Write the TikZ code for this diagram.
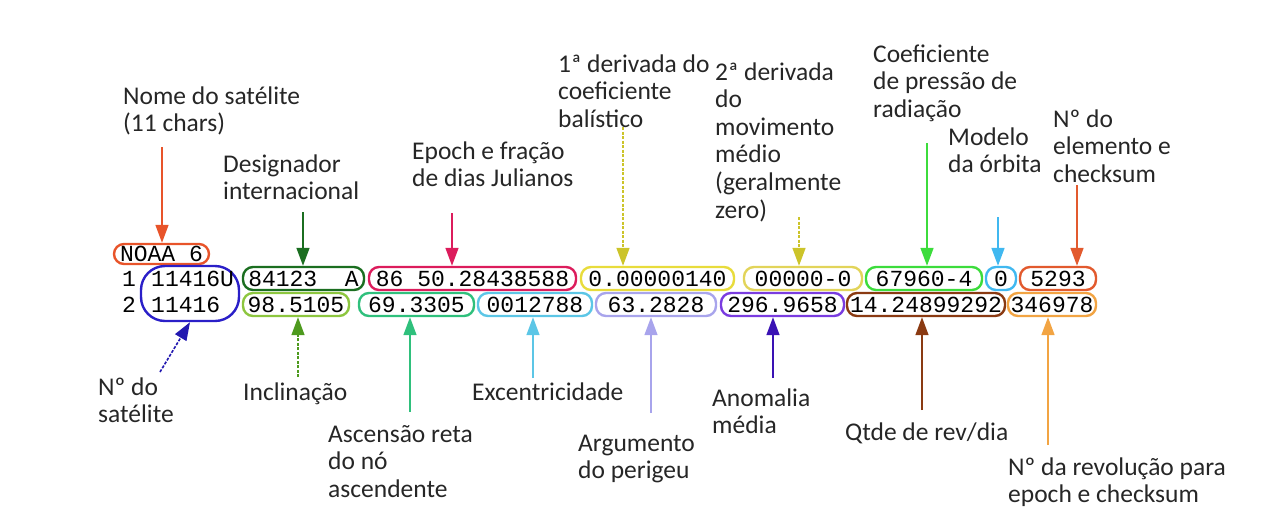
\documentclass[tikz,border=0pt]{standalone}
\usepackage{fontspec}
\setmainfont{Carlito}
\newfontfamily\tlefont{Liberation Mono}
\usetikzlibrary{arrows.meta}
\definecolor{cNome}{HTML}{E8542A}
\definecolor{cSat}{HTML}{2A1FC8}
\definecolor{cSatA}{HTML}{2218B0}
\definecolor{cDes}{HTML}{1B6E20}
\definecolor{cEp}{HTML}{DC1C5C}
\definecolor{cD1}{HTML}{E8DC3C}
\definecolor{cD1A}{HTML}{CCC42A}
\definecolor{cD2}{HTML}{E2D45A}
\definecolor{cRad}{HTML}{3CDC3C}
\definecolor{cMod}{HTML}{40B8F0}
\definecolor{cElem}{HTML}{E25A2E}
\definecolor{cInc}{HTML}{8DC63F}
\definecolor{cIncA}{HTML}{4E9A1E}
\definecolor{cAsc}{HTML}{2FC07C}
\definecolor{cExc}{HTML}{5CC6E6}
\definecolor{cArg}{HTML}{A8A4EC}
\definecolor{cAn}{HTML}{7A3CE0}
\definecolor{cAnA}{HTML}{3A12B4}
\definecolor{cRev}{HTML}{8A3A12}
\definecolor{cNrev}{HTML}{F2A443}
\begin{document}
\begin{tikzpicture}[x=1pt,y=-1pt,
  lbl/.style={anchor=base west, align=left, inner sep=0pt, text=black!85,
    font=\fontsize{25.5}{27.6}\selectfont},
  tle/.style={font=\tlefont\fontsize{23}{23}\selectfont, text=black, inner sep=0pt},
  tbox/.style={tle, draw=#1, line width=2.4pt, rounded corners=10pt, minimum height=23pt},
  arr/.style={draw=#1, line width=1.6pt, -{Triangle[width=13pt,length=18pt]}},
  dot/.style={dash pattern=on 3pt off 1.5pt},
]
\useasboundingbox (0,0) rectangle (1282,531);
% TLE lines
\node[tbox=cNome, minimum width=95pt, minimum height=20pt] (noaa) at (161.5,254) {NOAA 6};
\node[tle] (n1) at (129,278.5) {1};
\node[tle] (n2) at (129,304.5) {2};
\node[draw=cSat, line width=2.4pt, rounded corners=24pt, minimum width=98pt, minimum height=55pt] (sat) at (190,293.5) {};
\node[tle, anchor=west] (s1) at (151,278.5) {11416U};
\node[tle, anchor=west] (s2) at (151,304.5) {11416};
\node[tbox=cDes, minimum width=121pt] (des) at (303.5,278.5) {84123\ \ A};
\node[tbox=cEp, minimum width=207pt] (ep) at (472.5,278.5) {86 50.28438588};
\node[tbox=cD1, minimum width=153pt] (d1) at (657.5,278.5) {0.00000140};
\node[tbox=cD2, minimum width=118pt] (d2) at (803,278.5) {00000-0};
\node[tbox=cRad, minimum width=116pt] (rad) at (924,278.5) {67960-4};
\node[tbox=cMod, minimum width=30pt] (mod) at (1001,278.5) {0};
\node[tbox=cElem, minimum width=76pt] (elem) at (1058,278.5) {5293};
\node[tbox=cInc, minimum width=106pt] (inc) at (296,304.5) {98.5105};
\node[tbox=cAsc, minimum width=115pt] (asc) at (416.5,304.5) {69.3305};
\node[tbox=cExc, minimum width=114pt] (exc) at (535,304.5) {0012788};
\node[tbox=cArg, minimum width=120pt] (arg) at (656,304.5) {63.2828};
\node[tbox=cAn, minimum width=123pt] (an) at (782.5,304.5) {296.9658};
\node[tbox=cRev, minimum width=158pt] (rev) at (926,304.5) {14.24899292};
\node[tbox=cNrev, minimum width=88pt] (nrev) at (1052,304.5) {346978};
% labels top (y = baseline of last line)
\node[lbl] (lNome) at (123,131.6) {Nome do satélite\\(11 chars)};
\node[lbl] (lDes) at (223,199.6) {Designador\\internacional};
\node[lbl] (lEp) at (412,186.6) {Epoch e fração\\de dias Julianos};
\node[lbl] (lD1) at (558,127.2) {1ª derivada do\\coeficiente\\balístico};
\node[lbl] (lD2) at (715,218) {2ª derivada\\do\\movimento\\médio\\(geralmente\\zero)};
\node[lbl] (lRad) at (873,117.2) {Coeficiente\\de pressão de\\radiação};
\node[lbl] (lMod) at (948,172.6) {Modelo\\da órbita};
\node[lbl] (lElem) at (1053,182.2) {Nº do\\elemento e\\checksum};
% labels bottom
\node[lbl] (lSat) at (98,422.6) {Nº do\\satélite};
\node[lbl] (lInc) at (243,400) {Inclinação};
\node[lbl] (lAsc) at (328,497.2) {Ascensão reta\\do nó\\ascendente};
\node[lbl] (lExc) at (472,400) {Excentricidade};
\node[lbl] (lArg) at (578,478.6) {Argumento\\do perigeu};
\node[lbl] (lAn) at (712,433.6) {Anomalia\\média};
\node[lbl] (lRev) at (845,440) {Qtde de rev/dia};
\node[lbl] (lNrev) at (1008,502.6) {Nº da revolução para\\epoch e checksum};
% arrow start points
\coordinate (tNome) at (162,147);
\coordinate (tDes) at (303,212);
\coordinate (tEp) at (452,213);
\coordinate (tD1) at (623,127);
\coordinate (tD2) at (799,217);
\coordinate (tRad) at (927,143);
\coordinate (tMod) at (998,217);
\coordinate (tElem) at (1077,185);
\coordinate (bSat) at (160,372);
\coordinate (bInc) at (298,377);
\coordinate (bAsc) at (410,412);
\coordinate (bExc) at (533,378);
\coordinate (bArg) at (651,413);
\coordinate (bAn) at (773,378);
\coordinate (bRev) at (922,410);
\coordinate (bNrev) at (1048,445);
% arrows
\draw[arr=cNome] (tNome) -- (tNome |- noaa.north);
\draw[arr=cDes] (tDes) -- (tDes |- des.north);
\draw[arr=cEp] (tEp) -- (tEp |- ep.north);
\draw[arr=cD1A, dot] (tD1) -- (tD1 |- d1.north);
\draw[arr=cD1A, dot] (tD2) -- (tD2 |- d2.north);
\draw[arr=cRad] (tRad) -- (tRad |- rad.north);
\draw[arr=cMod] (tMod) -- (tMod |- mod.north);
\draw[arr=cElem] (tElem) -- (tElem |- elem.north);
\draw[arr=cSatA, dot] (bSat) -- (sat.south);
\draw[arr=cIncA, dot] (bInc) -- (bInc |- inc.south);
\draw[arr=cAsc] (bAsc) -- (bAsc |- asc.south);
\draw[arr=cExc] (bExc) -- (bExc |- exc.south);
\draw[arr=cArg] (bArg) -- (bArg |- arg.south);
\draw[arr=cAnA] (bAn) -- (bAn |- an.south);
\draw[arr=cRev] (bRev) -- (bRev |- rev.south);
\draw[arr=cNrev] (bNrev) -- (bNrev |- nrev.south);
\end{tikzpicture}
\end{document}
